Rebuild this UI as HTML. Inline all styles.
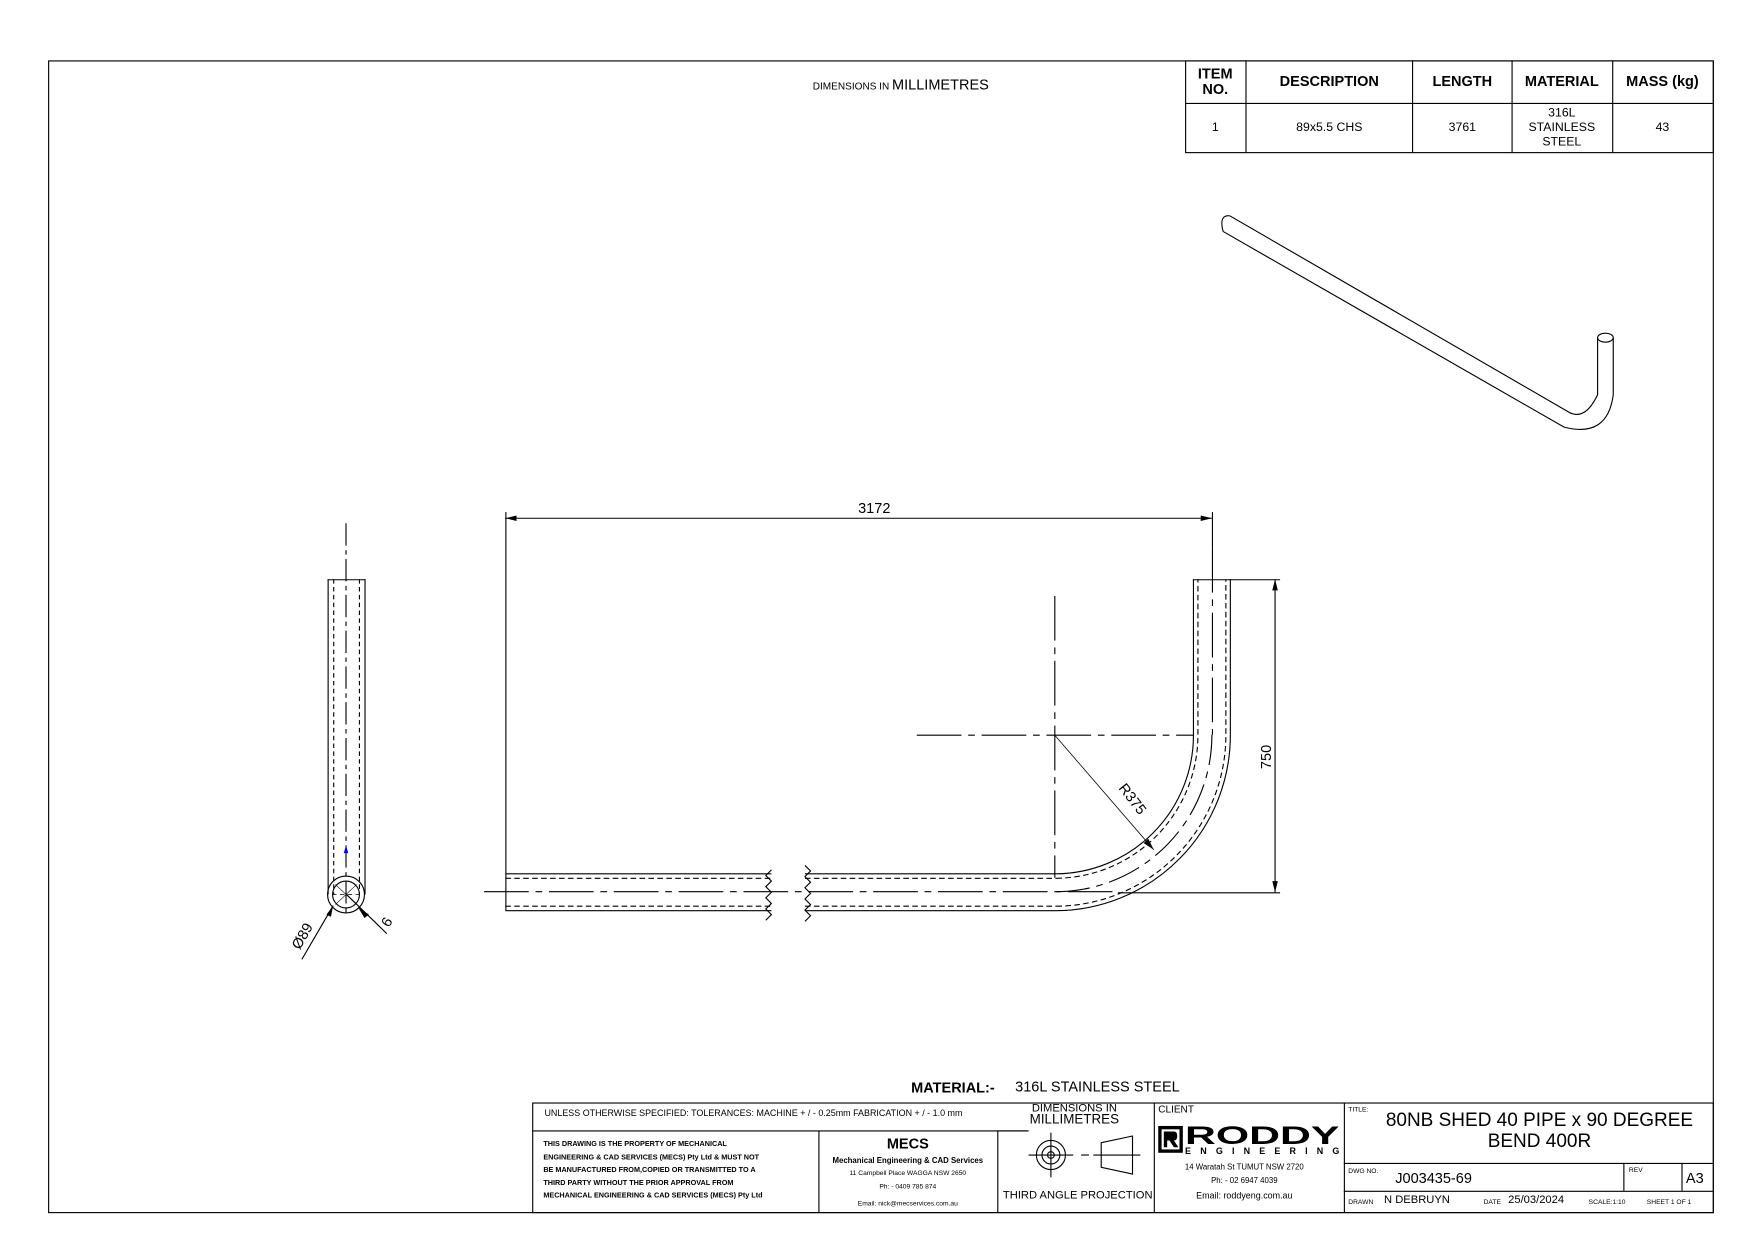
<!DOCTYPE html>
<html><head><meta charset="utf-8"><style>
html,body{margin:0;padding:0;background:#fff}
svg{display:block}
text{font-family:"Liberation Sans",sans-serif;fill:#000}
</style></head><body>
<svg width="1753" height="1240" viewBox="0 0 1568 1109" preserveAspectRatio="none" xmlns="http://www.w3.org/2000/svg">
<g fill="none" stroke="#000" stroke-width="1">
<rect x="43.5" y="54.5" width="1489" height="1030"/>
<rect x="1060.5" y="54.5" width="472" height="82"/>
<line x1="1060" y1="92.5" x2="1532" y2="92.5"/>
<line x1="1114.5" y1="54" x2="1114.5" y2="136"/>
<line x1="1263.5" y1="54" x2="1263.5" y2="136"/>
<line x1="1352.5" y1="54" x2="1352.5" y2="136"/>
<line x1="1442.5" y1="54" x2="1442.5" y2="136"/>
<path d="M1100 193 L1404 369 Q1418 376 1429 353 L1429 302"/>
<path d="M1094 207 L1399 382 Q1438 392 1443 353 L1443 302"/>
<path d="M1100 193 Q1090 192 1094 207"/>
<ellipse cx="1436" cy="302" rx="7" ry="4"/>
<line x1="293.5" y1="518" x2="293.5" y2="800"/>
<line x1="326.5" y1="518" x2="326.5" y2="800"/>
<line x1="293" y1="518.5" x2="327" y2="518.5"/>
<line x1="298.5" y1="518" x2="298.5" y2="800" stroke-dasharray="4,3"/>
<line x1="321.5" y1="518" x2="321.5" y2="800" stroke-dasharray="4,3"/>
<line x1="309.5" y1="468" x2="309.5" y2="820" stroke-dasharray="20,4,4,4"/>
<circle cx="309.5" cy="800" r="16.5"/>
<circle cx="309.5" cy="800" r="12"/>
<line x1="297" y1="800" x2="322" y2="800" stroke-dasharray="4,3" stroke-width="0.7"/>
<line x1="300" y1="791" x2="319" y2="809" stroke-width="0.5"/>
<line x1="319" y1="791" x2="300" y2="809" stroke-width="0.5"/>
<line x1="270" y1="858" x2="298" y2="810"/>
<line x1="346" y1="835" x2="310" y2="800"/>
<line x1="452" y1="781.5" x2="690" y2="781.5"/>
<line x1="452" y1="814.5" x2="690" y2="814.5"/>
<line x1="452.5" y1="781" x2="452.5" y2="814"/>
<line x1="452" y1="785.5" x2="690" y2="785.5" stroke-dasharray="5,3"/>
<line x1="452" y1="810.5" x2="690" y2="810.5" stroke-dasharray="5,3"/>
<line x1="720" y1="781.5" x2="945" y2="781.5"/>
<line x1="720" y1="814.5" x2="945" y2="814.5"/>
<line x1="720" y1="785.5" x2="945" y2="785.5" stroke-dasharray="5,3"/>
<line x1="720" y1="810.5" x2="945" y2="810.5" stroke-dasharray="5,3"/>
<path d="M690 778 l-5 5 l5 5 l-5 5 l5 5 l-5 5 l5 5 l-5 5 l5 5 l-5 5"/>
<path d="M720 774 l5 5 l-5 5 l5 5 l-5 5 l5 5 l-5 5 l5 5 l-5 5 l5 5 l-5 5"/>
<path d="M945 814.5 A157 157 0 0 0 1100.5 657 L1100.5 518"/>
<path d="M945 781.5 A124 124 0 0 0 1067.5 657 L1067.5 518"/>
<path d="M945 810.5 A153 153 0 0 0 1096.5 657 L1096.5 518" stroke-dasharray="5,3"/>
<path d="M945 785.5 A128 128 0 0 0 1071.5 657 L1071.5 518" stroke-dasharray="5,3"/>
<line x1="1067" y1="518.5" x2="1101" y2="518.5"/>
<line x1="433" y1="797.5" x2="1000" y2="797.5" stroke-dasharray="40,6,6,6"/>
<path d="M945 797.5 A140 140 0 0 0 1084 657" stroke-dasharray="30,6,6,6"/>
<line x1="1084.5" y1="490" x2="1084.5" y2="657" stroke-dasharray="40,6,6,6"/>
<line x1="943.5" y1="533" x2="943.5" y2="785" stroke-dasharray="40,6,6,6"/>
<line x1="820" y1="657.5" x2="1068" y2="657.5" stroke-dasharray="40,6,6,6"/>
<line x1="943" y1="657" x2="1032" y2="760" stroke-width="0.7"/>
<line x1="452.5" y1="458" x2="452.5" y2="781"/>
<line x1="1084.5" y1="458" x2="1084.5" y2="490"/>
<line x1="452" y1="463.5" x2="1084" y2="463.5"/>
<line x1="1100" y1="518.5" x2="1145" y2="518.5"/>
<line x1="1000" y1="798.5" x2="1145" y2="798.5"/>
<line x1="1140.5" y1="518" x2="1140.5" y2="798"/>
<rect x="476.5" y="986.5" width="1056" height="98"/>
<line x1="476" y1="1011.5" x2="920" y2="1011.5"/>
<line x1="732.5" y1="1011" x2="732.5" y2="1084"/>
<line x1="892.5" y1="1011" x2="892.5" y2="1084"/>
<line x1="1032.5" y1="986" x2="1032.5" y2="1084"/>
<line x1="1202.5" y1="986" x2="1202.5" y2="1084"/>
<line x1="1202" y1="1040.5" x2="1532" y2="1040.5"/>
<line x1="1202" y1="1065.5" x2="1532" y2="1065.5"/>
<line x1="1452.5" y1="1040" x2="1452.5" y2="1065"/>
<line x1="1504.5" y1="1040" x2="1504.5" y2="1065"/>
<line x1="893" y1="1011.5" x2="920" y2="1011.5"/>
<circle cx="940" cy="1033" r="13"/><circle cx="940" cy="1033" r="8"/><circle cx="940" cy="1033" r="3"/>
<line x1="920" y1="1033" x2="960" y2="1033"/><line x1="940" y1="1013" x2="940" y2="1053"/>
<line x1="967" y1="1033" x2="974" y2="1033"/>
<path d="M985 1022 L1013 1016 L1013 1050 L985 1044 Z"/>
<line x1="978" y1="1033" x2="1020" y2="1033"/>
</g>
<g fill="#000">
<polygon points="452,463.5 462,461 462,466"/>
<polygon points="1084,463.5 1074,461 1074,466"/>
<polygon points="1140.5,518 1138,528 1143,528"/>
<polygon points="1140.5,798 1138,788 1143,788"/>
<polygon points="1032,760 1023,754 1027,750"/>
<polygon points="298,810 292,818 296,820"/>
<polygon points="320,811 330,818 326,821"/>
<polygon points="309.5,756 307.5,763 311.5,763" fill="#00f"/>
<rect x="1036" y="1007" width="22" height="24"/>
<rect x="1039" y="1010" width="16" height="18" fill="#fff"/>
<path d="M1041 1012 h9 q3 0 3 4 q0 4 -3 4 l4 6 h-4 l-4 -6 h-2 v6 h-3 z"/>
</g>
<text x="727" y="80" font-size="9">DIMENSIONS IN <tspan font-size="13">MILLIMETRES</tspan></text>
<g font-weight="bold" font-size="13" text-anchor="middle">
<text x="1087" y="70">ITEM</text><text x="1087" y="84">NO.</text>
<text x="1189" y="77">DESCRIPTION</text>
<text x="1308" y="77">LENGTH</text>
<text x="1397" y="77">MATERIAL</text>
<text x="1487" y="77">MASS (kg)</text>
</g>
<g font-size="11" text-anchor="middle">
<text x="1087" y="117">1</text>
<text x="1189" y="117">89x5.5 CHS</text>
<text x="1308" y="117">3761</text>
<text x="1397" y="104">316L</text><text x="1397" y="117">STAINLESS</text><text x="1397" y="130">STEEL</text>
<text x="1487" y="117">43</text>
</g>
<text x="782" y="459" font-size="13" text-anchor="middle">3172</text>
<text transform="translate(1137,677) rotate(-90)" font-size="13" text-anchor="middle">750</text>
<text transform="translate(1000,705) rotate(52)" font-size="13">R375</text>
<text transform="translate(268,850) rotate(-60)" font-size="13">Ø89</text>
<text transform="translate(348,830) rotate(-60)" font-size="13">6</text>
<text x="815" y="977" font-size="13" font-weight="bold">MATERIAL:-</text>
<text x="908" y="976" font-size="13">316L STAINLESS STEEL</text>
<text x="487" y="998" font-size="8">UNLESS OTHERWISE SPECIFIED: TOLERANCES: MACHINE + / - 0.25mm  FABRICATION + / - 1.0 mm</text>
<text x="961" y="994" font-size="10" text-anchor="middle">DIMENSIONS IN</text>
<text x="961" y="1005" font-size="12" text-anchor="middle">MILLIMETRES</text>
<g font-size="6.5" font-weight="bold">
<text x="486" y="1025">THIS DRAWING IS THE PROPERTY OF MECHANICAL</text>
<text x="486" y="1037">ENGINEERING &amp; CAD SERVICES (MECS) Pty Ltd &amp; MUST NOT</text>
<text x="486" y="1048">BE MANUFACTURED FROM,COPIED OR TRANSMITTED TO A</text>
<text x="486" y="1060">THIRD PARTY WITHOUT THE PRIOR APPROVAL FROM</text>
<text x="486" y="1071">MECHANICAL ENGINEERING &amp; CAD SERVICES (MECS) Pty Ltd</text>
</g>
<g text-anchor="middle">
<text x="812" y="1027" font-size="13" font-weight="bold">MECS</text>
<text x="812" y="1040" font-size="7" font-weight="bold">Mechanical Engineering &amp; CAD Services</text>
<text x="812" y="1051" font-size="6">11 Campbell Place WAGGA NSW 2650</text>
<text x="812" y="1063" font-size="6">Ph: - 0409 785 874</text>
<text x="812" y="1078" font-size="6">Email: nick@mecservices.com.au</text>
<text x="964" y="1072" font-size="10">THIRD ANGLE PROJECTION</text>
<text x="1113" y="1046" font-size="7">14 Waratah St TUMUT NSW 2720</text>
<text x="1113" y="1058" font-size="7">Ph: - 02 6947 4039</text>
<text x="1113" y="1072" font-size="8">Email: roddyeng.com.au</text>
<text x="1377" y="1007" font-size="17">80NB SHED 40 PIPE x 90 DEGREE</text>
<text x="1377" y="1026" font-size="17">BEND 400R</text>
</g>
<text x="1060" y="1023" font-size="22" font-weight="bold" textLength="138" lengthAdjust="spacingAndGlyphs">RODDY</text>
<text x="1060" y="1032" font-size="8" font-weight="bold" textLength="138" lengthAdjust="spacing">ENGINEERING</text>
<text x="1036" y="995" font-size="9">CLIENT</text>
<text x="1206" y="994" font-size="6">TITLE:</text>
<text x="1206" y="1049" font-size="6">DWG NO.</text>
<text x="1248" y="1058" font-size="13">J003435-69</text>
<text x="1457" y="1048" font-size="6">REV</text>
<text x="1508" y="1058" font-size="13">A3</text>
<text x="1206" y="1077" font-size="6">DRAWN</text>
<text x="1238" y="1076" font-size="10">N DEBRUYN</text>
<text x="1327" y="1077" font-size="6">DATE</text>
<text x="1349" y="1076" font-size="10">25/03/2024</text>
<text x="1421" y="1077" font-size="6">SCALE:1:10</text>
<text x="1473" y="1077" font-size="6">SHEET 1 OF 1</text>
</svg>
</body></html>
